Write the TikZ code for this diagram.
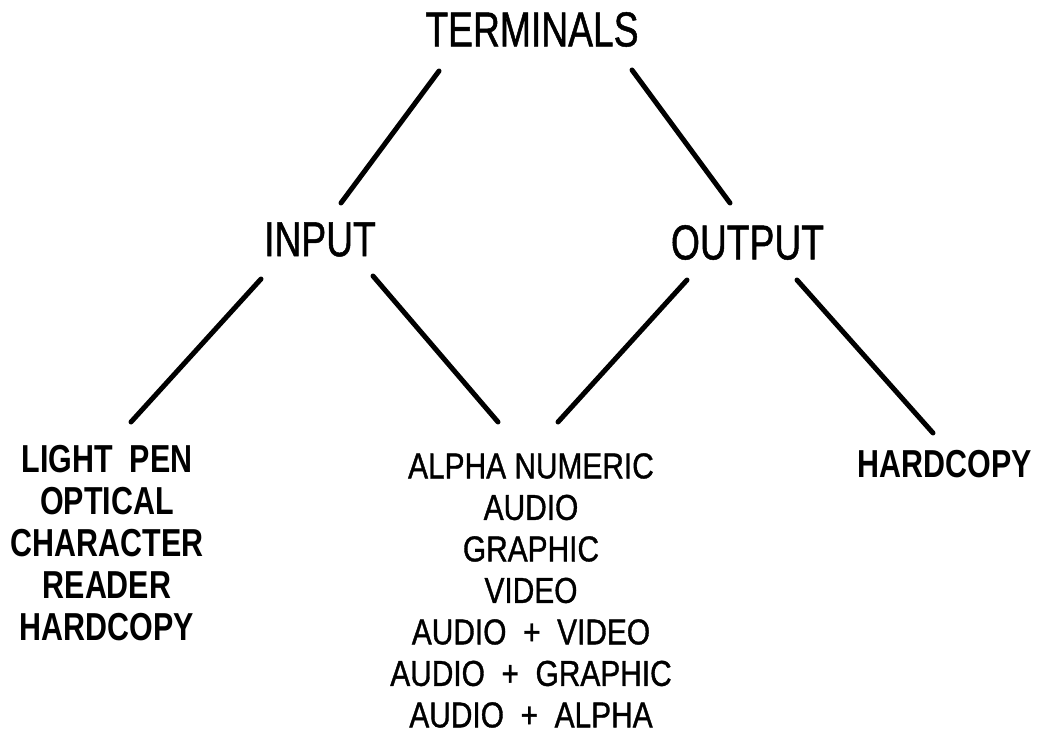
\documentclass[tikz,border=0pt]{standalone}
\usepackage{fontspec}
\usepackage{tikz}
\usetikzlibrary{positioning}
\newfontfamily\headfont[FakeStretch=0.76,FakeBold=1]{Liberation Sans}
\newfontfamily\listfont[FakeStretch=0.83,FakeBold=1]{Liberation Sans}
\newfontfamily\boldlistfont[FakeStretch=0.78]{Liberation Sans}
\tikzset{
  head/.style={inner sep=0pt,font=\fontsize{49}{49}\selectfont\headfont},
  plainlist/.style={inner sep=0pt,anchor=north,align=center,
                    font=\fontsize{36}{41.5}\selectfont\listfont},
  boldlist/.style={inner sep=0pt,anchor=north,align=center,
                   font=\fontsize{39}{42}\selectfont\boldlistfont\bfseries},
  branch/.style={line width=5pt,line cap=round},
}
\begin{document}
\begin{tikzpicture}[x=1pt,y=-1pt]
  \useasboundingbox (0,0) rectangle (1046,738);
  %% Levels
  \node[head] (terminals) at (532,29.5)  {TERMINALS};
  \node[head] (input)     at (320,239.5) {INPUT};
  \node[head] (output)    at (747.5,242.5) {OUTPUT};
  %% Leaves
  \node[boldlist]  (inlist)  at (107,445) {LIGHT\ \ PEN\\OPTICAL\\CHARACTER\\READER\\HARDCOPY};
  \node[plainlist] (both)    at (531,453) {ALPHA NUMERIC\\AUDIO\\GRAPHIC\\VIDEO\\
                                           AUDIO\ \ +\ \ VIDEO\\AUDIO\ \ +\ \ GRAPHIC\\AUDIO\ \ +\ \ ALPHA};
  \node[boldlist]  (outlist) at (945,450) {HARDCOPY};

  %% Edges
  \draw[branch] ([shift={(-93,41.5)}]terminals.center) -- ([shift={(21,-36.5)}]input.center);
  \draw[branch] ([shift={(100,40.5)}]terminals.center) -- ([shift={(-17.5,-39.5)}]output.center);
  \draw[branch] ([shift={(-59,39.5)}]input.center)     -- ([shift={(24,-23)}]inlist.north);
  \draw[branch] ([shift={(53,36.5)}]input.center)      -- ([shift={(-33,-31)}]both.north);
  \draw[branch] ([shift={(-60.5,37.5)}]output.center)  -- ([shift={(27,-31)}]both.north);
  \draw[branch] ([shift={(49.5,37.5)}]output.center)   -- ([shift={(-12,-17)}]outlist.north);
\end{tikzpicture}
\end{document}
